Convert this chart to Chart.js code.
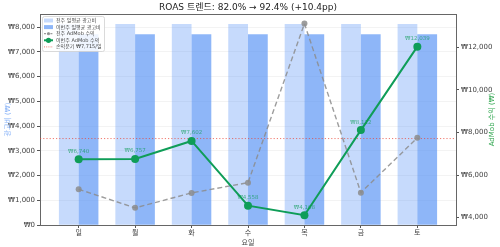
<!DOCTYPE html>
<html>
<head>
<meta charset="utf-8">
<script src="https://cdn.jsdelivr.net/npm/chart.js@4.4.1/dist/chart.umd.min.js"></script>
<style>
  html, body { margin: 0; padding: 0; background: #fff; }
</style>
</head>
<body>
<canvas id="roasChart" width="500" height="247"></canvas>
<script>
// Data
const days = ['일', '월', '화', '수', '목', '금', '토'];
const lastWeekAdCost = [8123, 8123, 8123, 8123, 8123, 8123, 8123];
const thisWeekAdCost = [7715, 7715, 7715, 7715, 7715, 7715, 7715];
const lastWeekAdmob = [5330, 4454, 5157, 5640, 13124, 5171, 7750];
const thisWeekAdmob = [6740, 6757, 7602, 4558, 4108, 8112, 12039];
const BREAKEVEN = 7715;
const leftTicks = [0, 1000, 2000, 3000, 4000, 5000, 6000, 7000, 8000];
const rightTicks = [4000, 6000, 8000, 10000, 12000];

const X_MIN = -0.685, X_MAX = 6.685;
const FONT = "'DejaVu Sans', 'Noto Sans CJK KR', sans-serif";

const colors = {
    lastBar: 'rgba(66,133,244,0.3)',
    thisBar: 'rgba(66,133,244,0.6)',
    lastLine: 'rgba(140,140,140,0.85)',
    thisLine: '#0F9D58',
    breakeven: 'rgba(234,67,53,0.7)',
    tick: '#444',
    frame: '#666'
};

const sum = a => a.reduce((s, v) => s + v, 0);
const roasLast = sum(lastWeekAdmob) / sum(lastWeekAdCost) * 100;
const roasThis = sum(thisWeekAdmob) / sum(thisWeekAdCost) * 100;
const titleText = `ROAS 트렌드: ${roasLast.toFixed(1)}% → ${roasThis.toFixed(1)}% (+${(roasThis - roasLast).toFixed(1)}pp)`;

const won = v => '₩' + v.toLocaleString('en-US');
const xy = arr => arr.map((v, i) => ({ x: i, y: v }));

// labels, frame, axis titles and legend
const overlay = {
    id: 'overlay',
    afterDatasetsDraw(chart) {
        const { ctx, chartArea: a } = chart;
        ctx.save();

        // top spine
        ctx.strokeStyle = colors.frame;
        ctx.lineWidth = 1;
        ctx.beginPath();
        ctx.moveTo(a.left, a.top + 0.5);
        ctx.lineTo(a.right, a.top + 0.5);
        ctx.stroke();

        // value labels over this week's points
        const meta = chart.getDatasetMeta(0);
        ctx.font = '5.5px ' + FONT;
        ctx.fillStyle = 'rgba(15,157,88,0.7)';
        ctx.textAlign = 'center';
        ctx.textBaseline = 'middle';
        meta.data.forEach((p, i) => ctx.fillText(won(thisWeekAdmob[i]), p.x, p.y - 8));

        // axis titles
        const midY = (a.top + a.bottom) / 2;
        ctx.font = '7px ' + FONT;
        ctx.save();
        ctx.translate(8, midY);
        ctx.rotate(-Math.PI / 2);
        ctx.fillStyle = '#8ab4f8';
        ctx.fillText('광고비 (₩)', 0, 0);
        ctx.restore();
        ctx.save();
        ctx.translate(492, midY);
        ctx.rotate(-Math.PI / 2);
        ctx.fillStyle = '#34A853';
        ctx.fillText('AdMob 수익 (₩)', 0, 0);
        ctx.restore();

        // legend
        const lx = 42, ly = 16, lw = 62, lh = 35;
        ctx.fillStyle = 'rgba(255,255,255,0.85)';
        ctx.strokeStyle = '#d0d0d0';
        ctx.lineWidth = 0.8;
        ctx.beginPath();
        ctx.roundRect(lx + 0.5, ly + 0.5, lw, lh, 2);
        ctx.fill();
        ctx.stroke();

        const rows = [
            { text: '전주 일평균 광고비', kind: 'bar', color: colors.lastBar },
            { text: '이번주 일평균 광고비', kind: 'bar', color: colors.thisBar },
            { text: '전주 AdMob 수익', kind: 'line', color: colors.lastLine, dash: [2, 1.2], width: 1.2, r: 1.6 },
            { text: '이번주 AdMob 수익', kind: 'line', color: colors.thisLine, dash: [], width: 2, r: 2.6 },
            { text: '손익분기 ' + won(BREAKEVEN) + '/일', kind: 'line', color: colors.breakeven, dash: [1, 1.2], width: 1, r: 0 }
        ];
        ctx.textAlign = 'left';
        ctx.font = '5px ' + FONT;
        rows.forEach((row, i) => {
            const y = ly + 4.5 + i * 6.6;
            if (row.kind === 'bar') {
                ctx.fillStyle = row.color;
                ctx.fillRect(44, y - 2, 9, 4);
            } else {
                ctx.strokeStyle = row.color;
                ctx.lineWidth = row.width;
                ctx.setLineDash(row.dash);
                ctx.beginPath();
                ctx.moveTo(44, y);
                ctx.lineTo(53, y);
                ctx.stroke();
                ctx.setLineDash([]);
                if (row.r) {
                    ctx.fillStyle = row.color;
                    ctx.beginPath();
                    ctx.arc(48.5, y, row.r, 0, Math.PI * 2);
                    ctx.fill();
                }
            }
            ctx.fillStyle = '#444';
            ctx.fillText(row.text, 56, y + 0.3);
        });

        ctx.restore();
    }
};

const roasChart = new Chart(document.getElementById('roasChart'), {
    data: {
        datasets: [{
            type: 'line',
            label: '이번주 AdMob 수익',
            data: xy(thisWeekAdmob),
            yAxisID: 'y2',
            borderColor: colors.thisLine,
            backgroundColor: colors.thisLine,
            borderWidth: 2,
            pointRadius: 4,
            pointBorderWidth: 0,
            order: 0
        }, {
            type: 'line',
            label: '전주 AdMob 수익',
            data: xy(lastWeekAdmob),
            yAxisID: 'y2',
            borderColor: colors.lastLine,
            backgroundColor: colors.lastLine,
            borderWidth: 1.4,
            borderDash: [5, 3],
            pointRadius: 3,
            pointBorderWidth: 0,
            order: 1
        }, {
            type: 'line',
            label: '손익분기',
            data: [{ x: X_MIN, y: BREAKEVEN }, { x: X_MAX, y: BREAKEVEN }],
            yAxisID: 'y2',
            borderColor: colors.breakeven,
            borderWidth: 1,
            borderDash: [1.2, 2],
            pointRadius: 0,
            order: 2
        }, {
            type: 'bar',
            label: '전주 일평균 광고비',
            data: xy(lastWeekAdCost),
            yAxisID: 'y',
            backgroundColor: colors.lastBar,
            categoryPercentage: 0.7,
            barPercentage: 1.0,
            order: 3
        }, {
            type: 'bar',
            label: '이번주 일평균 광고비',
            data: xy(thisWeekAdCost),
            yAxisID: 'y',
            backgroundColor: colors.thisBar,
            categoryPercentage: 0.7,
            barPercentage: 1.0,
            order: 4
        }]
    },
    options: {
        responsive: false,
        animation: false,
        devicePixelRatio: 1,
        layout: { padding: 0 },
        font: { family: FONT },
        plugins: {
            legend: { display: false },
            tooltip: { enabled: false },
            title: {
                display: true,
                text: titleText,
                fullSize: false,
                color: '#222',
                font: { family: FONT, size: 9, weight: 'normal', lineHeight: 1.2 },
                padding: { top: 2, bottom: 1.2 }
            }
        },
        scales: {
            x: {
                type: 'linear',
                offset: false,
                min: X_MIN,
                max: X_MAX,
                afterBuildTicks: s => { s.ticks = days.map((d, i) => ({ value: i })); },
                afterFit: s => { s.height = 22; },
                ticks: {
                    callback: v => days[v],
                    color: colors.tick,
                    font: { family: FONT, size: 7 },
                    padding: 1,
                    maxRotation: 0
                },
                grid: { offset: false, drawOnChartArea: false, tickLength: 3, tickColor: '#555' },
                border: { color: colors.frame, width: 1 },
                title: {
                    display: true,
                    text: '요일',
                    color: colors.tick,
                    font: { family: FONT, size: 7 },
                    padding: 0
                }
            },
            y: {
                position: 'left',
                min: 0,
                max: 8529,
                afterBuildTicks: s => { s.ticks = leftTicks.map(v => ({ value: v })); },
                afterFit: s => { s.width = 40; },
                ticks: {
                    callback: v => won(v),
                    color: colors.tick,
                    font: { family: FONT, size: 7 },
                    padding: 2
                },
                grid: { color: 'rgba(0,0,0,0.07)', lineWidth: 0.7, tickLength: 3, tickColor: '#555', tickWidth: 1 },
                border: { color: colors.frame, width: 1 }
            },
            y2: {
                position: 'right',
                min: 3648,
                max: 13575,
                afterBuildTicks: s => { s.ticks = rightTicks.map(v => ({ value: v })); },
                afterFit: s => { s.width = 44; },
                ticks: {
                    callback: v => won(v),
                    color: colors.tick,
                    font: { family: FONT, size: 7 },
                    padding: 2
                },
                grid: { drawOnChartArea: false, tickLength: 3, tickColor: '#555' },
                border: { color: colors.frame, width: 1 }
            }
        }
    },
    plugins: [overlay]
});
</script>
</body>
</html>
